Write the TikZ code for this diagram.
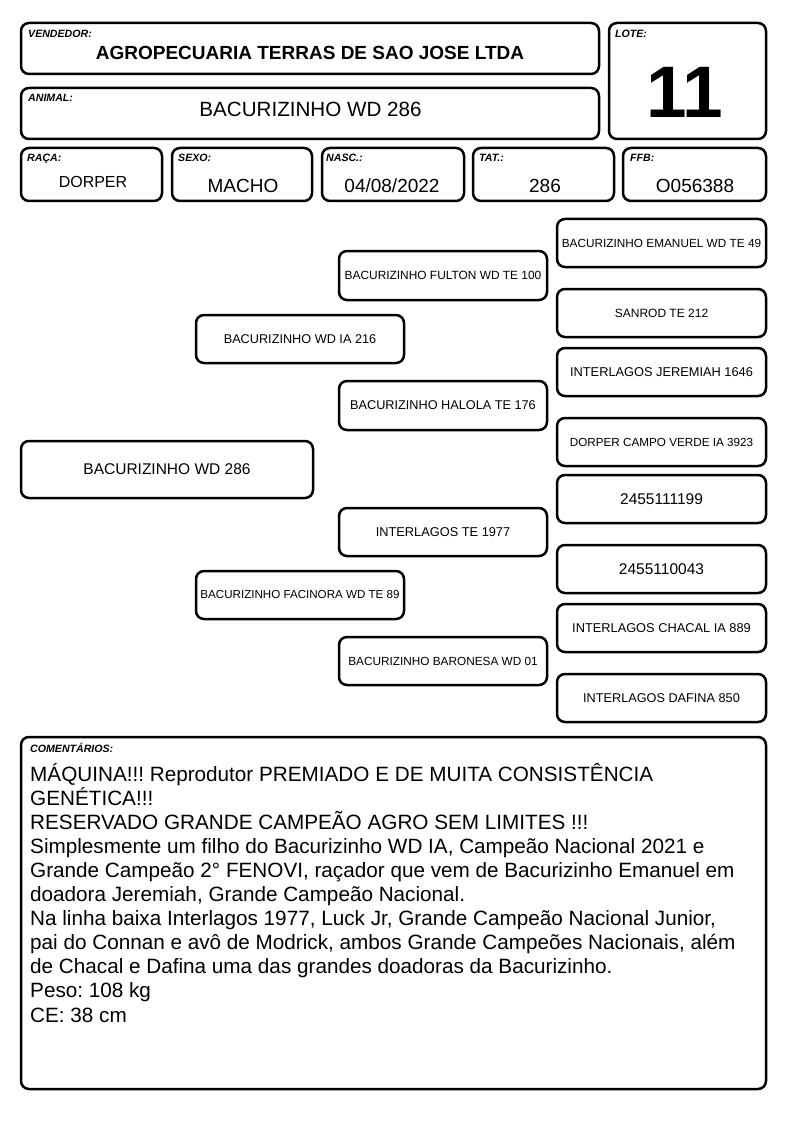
\documentclass[tikz,border=0pt]{standalone}
\usepackage{fontspec}
\setmainfont{Liberation Sans}
\frenchspacing
\newcommand{\fsz}[1]{\fontsize{#1}{#1}\selectfont}
\tikzset{
  card/.style={draw=black, line width=2.5pt, rounded corners=8pt, inner sep=0pt, align=center},
  lbl/.style={anchor=base west, inner sep=0pt, font=\fsz{10.6}\bfseries\itshape},
  val/.style={anchor=base, inner sep=0pt},
  cline/.style={anchor=base west, inner sep=0pt, font=\fsz{20.7}}
}
\newcommand{\rbox}[7]{\node[card, minimum width={(#4-#2)*1pt}, minimum height={(#5-#3)*1pt}, font=\fsz{#6}] (#1) at ({(#2+#4)/2},{(#3+#5)/2}) {#7};}
\begin{document}
\begin{tikzpicture}[x=1pt,y=-1pt]
\useasboundingbox (0,0) rectangle (794,1123);
% header
\rbox{vend}{21}{23}{599}{74}{12}{}
\rbox{anim}{21}{88}{599}{139}{12}{}
\rbox{lote}{609}{23}{766}{139}{12}{}
\rbox{raca}{21}{148}{162}{201}{12}{}
\rbox{sexo}{172}{148}{312}{201}{12}{}
\rbox{nasc}{322}{148}{464}{201}{12}{}
\rbox{tat}{473}{148}{614}{201}{12}{}
\rbox{ffb}{623}{148}{766}{201}{12}{}
\node[lbl] (lvend) at (28,38) {VENDEDOR:};
\node[lbl] (lanim) at (28,102) {ANIMAL:};
\node[lbl] (llote) at (615,38) {LOTE:};
\node[lbl] (lraca) at (27,162) {RAÇA:};
\node[lbl] (lsexo) at (178,162) {SEXO:};
\node[lbl] (lnasc) at (326,162) {NASC.:};
\node[lbl] (ltat) at (479,162) {TAT.:};
\node[lbl] (lffb) at (630,162) {FFB:};
\node[val, font=\fsz{19}\bfseries] (tvend) at (310,60) {AGROPECUARIA TERRAS DE SAO JOSE LTDA};
\node[val, font=\fsz{20.6}] (tanim) at (310.5,117) {BACURIZINHO WD 286};
\node[val, font=\fsz{73}\bfseries] (tlote) at (685,118) {11};
\node[val, font=\fsz{16}] (traca) at (93,188) {DORPER};
\node[val, font=\fsz{19}] (tsexo) at (243,193) {MACHO};
\node[val, font=\fsz{19}] (tnasc) at (392,193) {04/08/2022};
\node[val, font=\fsz{19}] (ttat) at (545,193) {286};
\node[val, font=\fsz{19}] (tffb) at (695,193) {O056388};
% pedigree
\rbox{p0}{21}{441}{313}{498}{15.5}{BACURIZINHO WD 286}
\rbox{s}{196}{315}{404}{363}{12.7}{BACURIZINHO WD IA 216}
\rbox{d}{196}{571}{404}{619}{11.6}{BACURIZINHO FACINORA WD TE 89}
\rbox{ss}{339}{251}{547}{300}{11.9}{BACURIZINHO FULTON WD TE 100}
\rbox{sd}{339}{381}{547}{430}{12.7}{BACURIZINHO HALOLA TE 176}
\rbox{ds}{339}{508}{547}{556}{12.8}{INTERLAGOS TE 1977}
\rbox{dd}{339}{637}{547}{685}{11.8}{BACURIZINHO BARONESA WD 01}
\rbox{sss}{557}{219}{766}{267}{11.8}{BACURIZINHO EMANUEL WD TE 49}
\rbox{ssd}{557}{289}{766}{337}{12}{SANROD TE 212}
\rbox{sds}{557}{348}{766}{396}{12.8}{INTERLAGOS JEREMIAH 1646}
\rbox{sdd}{557}{418}{766}{466}{11.7}{DORPER CAMPO VERDE IA 3923}
\rbox{dss}{557}{475}{766}{523}{15.5}{2455111199}
\rbox{dsd}{557}{545}{766}{593}{15.5}{2455110043}
\rbox{dds}{557}{604}{766}{652}{12.8}{INTERLAGOS CHACAL IA 889}
\rbox{ddd}{557}{674}{766}{722}{12.7}{INTERLAGOS DAFINA 850}
% comments
\rbox{com}{21}{737}{766}{1089}{12}{}
\node[lbl] (lcom) at (30,752) {COMENTÁRIOS:};
\node[cline] (c1) at (30,781) {MÁQUINA!!! Reprodutor PREMIADO E DE MUITA CONSISTÊNCIA};
\node[cline] (c2) at (30,805.1) {GENÉTICA!!!};
\node[cline] (c3) at (30,829.2) {RESERVADO GRANDE CAMPEÃO AGRO SEM LIMITES !!!};
\node[cline] (c4) at (30,853.3) {Simplesmente um filho do Bacurizinho WD IA, Campeão Nacional 2021 e};
\node[cline] (c5) at (30,877.4) {Grande Campeão 2° FENOVI, raçador que vem de Bacurizinho Emanuel em};
\node[cline] (c6) at (30,901.5) {doadora Jeremiah, Grande Campeão Nacional.};
\node[cline] (c7) at (30,925.6) {Na linha baixa Interlagos 1977, Luck Jr, Grande Campeão Nacional Junior,};
\node[cline] (c8) at (30,949.7) {pai do Connan e avô de Modrick, ambos Grande Campeões Nacionais, além};
\node[cline] (c9) at (30,973.8) {de Chacal e Dafina uma das grandes doadoras da Bacurizinho.};
\node[cline] (c10) at (30,997.9) {Peso: 108 kg};
\node[cline] (c11) at (30,1022) {CE: 38 cm};
\end{tikzpicture}
\end{document}
